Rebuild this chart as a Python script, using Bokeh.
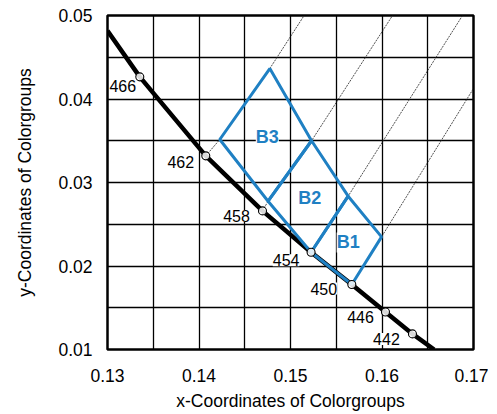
from bokeh.plotting import figure
from bokeh.models import Range1d, FixedTicker, Label, PrintfTickFormatter
from bokeh.embed import file_html
from bokeh.resources import INLINE

# ---- data ----
x_ticks = [0.13, 0.14, 0.15, 0.16, 0.17]
x_minor = [0.135, 0.145, 0.155, 0.165]
y_ticks = [0.01, 0.02, 0.03, 0.04, 0.05]
y_minor = [0.015, 0.025, 0.035, 0.045]

# spectral locus (thick black curve), incl. where it leaves the frame
curve_x = [0.1300, 0.13353, 0.14074, 0.14694, 0.15225, 0.15670, 0.16038, 0.16333, 0.16569]
curve_y = [0.04816, 0.04265, 0.03319, 0.02660, 0.02165, 0.01778, 0.01450, 0.01187, 0.0100]

# marked wavelengths on the locus
wl_nm = ["466", "462", "458", "454", "450", "446", "442"]
wl_x = [0.13353, 0.14074, 0.14694, 0.15225, 0.15670, 0.16038, 0.16333]
wl_y = [0.04265, 0.03319, 0.02660, 0.02165, 0.01778, 0.01450, 0.01187]

# thin dominant-wavelength lines
iso_xs = [[0.14074, 0.14227, 0.14774, 0.15149],
          [0.14694, 0.14755, 0.15230, 0.16115],
          [0.15225, 0.15630, 0.16880],
          [0.15670, 0.15995, 0.17000]]
iso_ys = [[0.03319, 0.03515, 0.04365, 0.05000],
          [0.02660, 0.02776, 0.03500, 0.05000],
          [0.02165, 0.02836, 0.05000],
          [0.01778, 0.02349, 0.04126]]

# colour bins (quadrilaterals)
bin_names = ["B1", "B2", "B3"]
bin_xs = [[0.15225, 0.15670, 0.15995, 0.15630],
          [0.14755, 0.15225, 0.15630, 0.15230],
          [0.14227, 0.14755, 0.15230, 0.14774]]
bin_ys = [[0.02165, 0.01778, 0.02349, 0.02836],
          [0.02776, 0.02165, 0.02836, 0.03500],
          [0.03515, 0.02776, 0.03500, 0.04365]]

# label nudges (screen px) relative to each marked point
lab_dx = [-17, -25, -26, -25, -28, -25, -26]
lab_dy = [-9, -6, -5, -8, -4, -5, -5]

BLUE = "#1f80c3"
FONT = "Liberation Sans"

p = figure(width=488, height=414, output_backend="svg", toolbar_location=None,
           x_range=Range1d(0.13, 0.17), y_range=Range1d(0.01, 0.05),
           min_border_left=107, min_border_right=15, min_border_top=15, min_border_bottom=65)

p.background_fill_color = "white"
p.border_fill_color = "white"
p.outline_line_color = "black"
p.outline_line_width = 2.5

for ax, ticks, minor in ((p.xaxis, x_ticks, x_minor), (p.yaxis, y_ticks, y_minor)):
    ax.ticker = FixedTicker(ticks=ticks, minor_ticks=minor)
    ax.formatter = PrintfTickFormatter(format="%.2f")
    ax.axis_line_color = None
    ax.major_tick_line_color = None
    ax.minor_tick_line_color = None
    ax.major_tick_in = 0
    ax.major_tick_out = 0
    ax.minor_tick_in = 0
    ax.minor_tick_out = 0
    ax.major_label_text_font = FONT
    ax.major_label_text_font_size = "17.5px"
    ax.major_label_text_color = "black"
    ax.axis_label_text_font = FONT
    ax.axis_label_text_font_size = "17.5px"
    ax.axis_label_text_font_style = "normal"
    ax.axis_label_text_color = "black"

p.xaxis.axis_label = "x-Coordinates of Colorgroups"
p.yaxis.axis_label = "y-Coordinates of Colorgroups"
p.xaxis.major_label_standoff = 19
p.yaxis.major_label_standoff = 15
p.xaxis.axis_label_standoff = 6
p.yaxis.axis_label_standoff = 20

for g, ticks, minor in ((p.xgrid, x_ticks, x_minor), (p.ygrid, y_ticks, y_minor)):
    g.ticker = FixedTicker(ticks=ticks, minor_ticks=minor)
    g.grid_line_color = "black"
    g.grid_line_width = 1.3
    g.minor_grid_line_color = "black"
    g.minor_grid_line_width = 1.3

# thin wavelength lines
p.multi_line(iso_xs, iso_ys, line_color="#222222", line_width=0.8, line_dash="2 1")

# spectral locus
p.line(curve_x, curve_y, line_color="black", line_width=4.5)

# bins
p.patches(bin_xs, bin_ys, fill_color=None, line_color=BLUE, line_width=3)

# markers
p.scatter(wl_x, wl_y, marker="circle", size=8, line_color="black", line_width=1.1,
          fill_color="white", fill_alpha=0.85)

# wavelength labels
for x, y, t, dx, dy in zip(wl_x, wl_y, wl_nm, lab_dx, lab_dy):
    p.add_layout(Label(x=x, y=y, text=t, x_offset=dx, y_offset=dy,
                       text_align="center", text_baseline="middle",
                       text_font=FONT, text_font_size="16px", text_color="black",
                       background_fill_color="white", level="overlay"))

# bin labels at bin centroids
for xs, ys, t in zip(bin_xs, bin_ys, bin_names):
    p.add_layout(Label(x=sum(xs) / len(xs), y=sum(ys) / len(ys), text=t,
                       text_align="center", text_baseline="middle",
                       text_font=FONT, text_font_size="18px", text_font_style="bold",
                       text_color=BLUE, background_fill_color="white"))

open("out.html", "w").write(file_html(p, INLINE))
